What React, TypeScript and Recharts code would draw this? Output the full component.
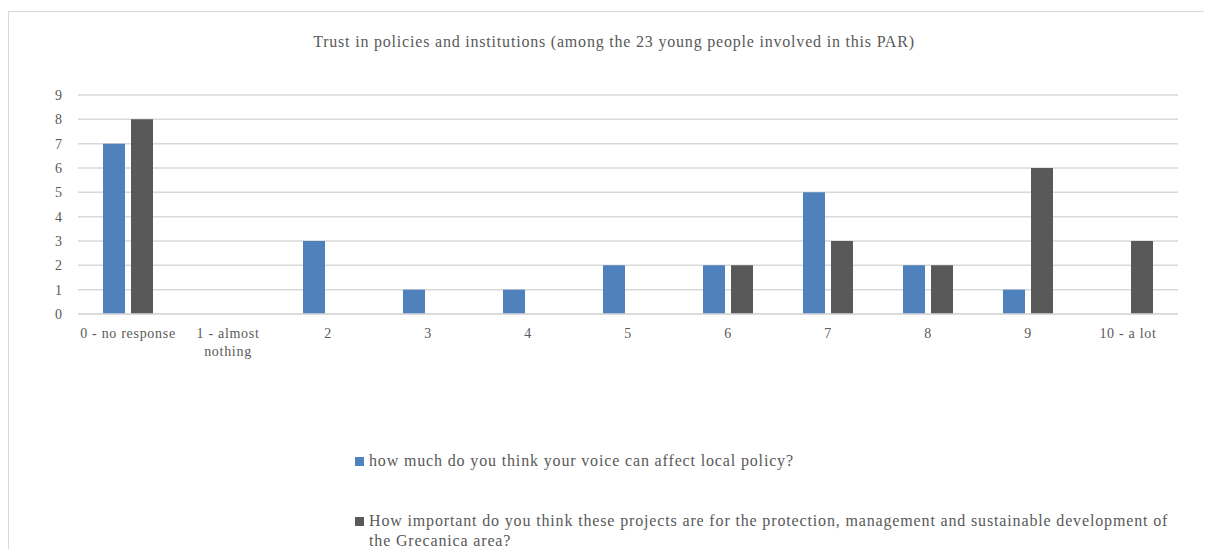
import { Bar, BarChart, CartesianGrid, Legend, Text, XAxis, YAxis } from "recharts";

const categories = [
    "0 - no response",
    "1 - almost nothing",
    "2",
    "3",
    "4",
    "5",
    "6",
    "7",
    "8",
    "9",
    "10 - a lot",
];

const voiceSeries = "how much do you think your voice can affect local policy?";
const importanceSeries =
    "How important do you think these projects are for the protection, management and sustainable development of the Grecanica area?";
const seriesOrder = [voiceSeries, importanceSeries];

const voiceValues = [7, 0, 3, 1, 1, 2, 2, 5, 2, 1, 0];
const importanceValues = [8, 0, 0, 0, 0, 0, 2, 3, 2, 6, 3];

const yTicks = [0, 1, 2, 3, 4, 5, 6, 7, 8, 9];

const title = "Trust in policies and institutions (among the 23 young people involved in this PAR)";

const font = "'Liberation Serif', 'Times New Roman', serif";
const textColor = "#595959";
const colors = ["#4f81bd", "#595959"];

const data = categories.map((name, i) => ({
    name,
    voice: voiceValues[i],
    importance: importanceValues[i],
}));

const CategoryTick = ({ x, y, payload }: any) => (
    <Text
        x={x}
        y={y}
        width={104}
        textAnchor="middle"
        verticalAnchor="start"
        lineHeight={18}
        fill={textColor}
        fontSize={14}
        fontFamily={font}
        style={{ letterSpacing: 0.7 }}
    >
        {payload.value}
    </Text>
);

const CustomLegend = ({ payload }: any) => {
    const items = [...(payload || [])].sort(
        (a: any, b: any) => seriesOrder.indexOf(a.value) - seriesOrder.indexOf(b.value)
    );
    return (
        <div style={{ fontFamily: font, fontSize: 16, letterSpacing: 0.85, color: textColor, lineHeight: "20px" }}>
            {items.map((entry: any, index: number) => (
                <div key={index} style={{ display: "flex", alignItems: "flex-start", marginBottom: index === 0 ? 40 : 0 }}>
                    <div
                        style={{
                            width: 9,
                            height: 9,
                            marginTop: 6,
                            marginRight: 5,
                            flexShrink: 0,
                            backgroundColor: entry.color,
                        }}
                    />
                    <span style={{ maxWidth: 825 }}>{entry.value}</span>
                </div>
            ))}
        </div>
    );
};

export default function App() {
    return (
        <div
            style={{
                position: "relative",
                marginTop: 3,
                height: 537,
                borderTop: "1px solid #d9d9d9",
                borderLeft: "1px solid #d9d9d9",
                background: "#fff",
            }}
        >
            <div
                style={{
                    position: "absolute",
                    left: 0,
                    width: 1210,
                    top: 21,
                    textAlign: "center",
                    fontFamily: font,
                    fontSize: 16,
                    letterSpacing: 0.8,
                    color: textColor,
                    zIndex: 1,
                }}
            >
                {title}
            </div>
            <BarChart
                width={1195}
                height={537}
                data={data}
                margin={{ top: 83, right: 26, left: 29, bottom: 205 }}
                barSize={22}
                barGap={6}
            >
                <CartesianGrid vertical={false} stroke="#d9d9d9" strokeWidth={1.5} />
                <XAxis
                    dataKey="name"
                    interval={0}
                    height={30}
                    tickLine={false}
                    axisLine={{ stroke: "#d9d9d9", strokeWidth: 1.5 }}
                    tickMargin={8}
                    tick={<CategoryTick />}
                />
                <YAxis
                    width={40}
                    domain={[0, 9]}
                    ticks={yTicks}
                    interval={0}
                    axisLine={false}
                    tickLine={false}
                    tickMargin={10}
                    tick={{ fill: textColor, fontSize: 14, fontFamily: font }}
                />
                <Legend
                    layout="horizontal"
                    verticalAlign="middle"
                    align="center"
                    content={<CustomLegend />}
                    wrapperStyle={{ position: "absolute", left: 346, top: 439, width: 845, bottom: "auto", right: "auto" }}
                />
                <Bar dataKey="voice" name={voiceSeries} fill={colors[0]} isAnimationActive={false} />
                <Bar dataKey="importance" name={importanceSeries} fill={colors[1]} isAnimationActive={false} />
            </BarChart>
        </div>
    );
}
